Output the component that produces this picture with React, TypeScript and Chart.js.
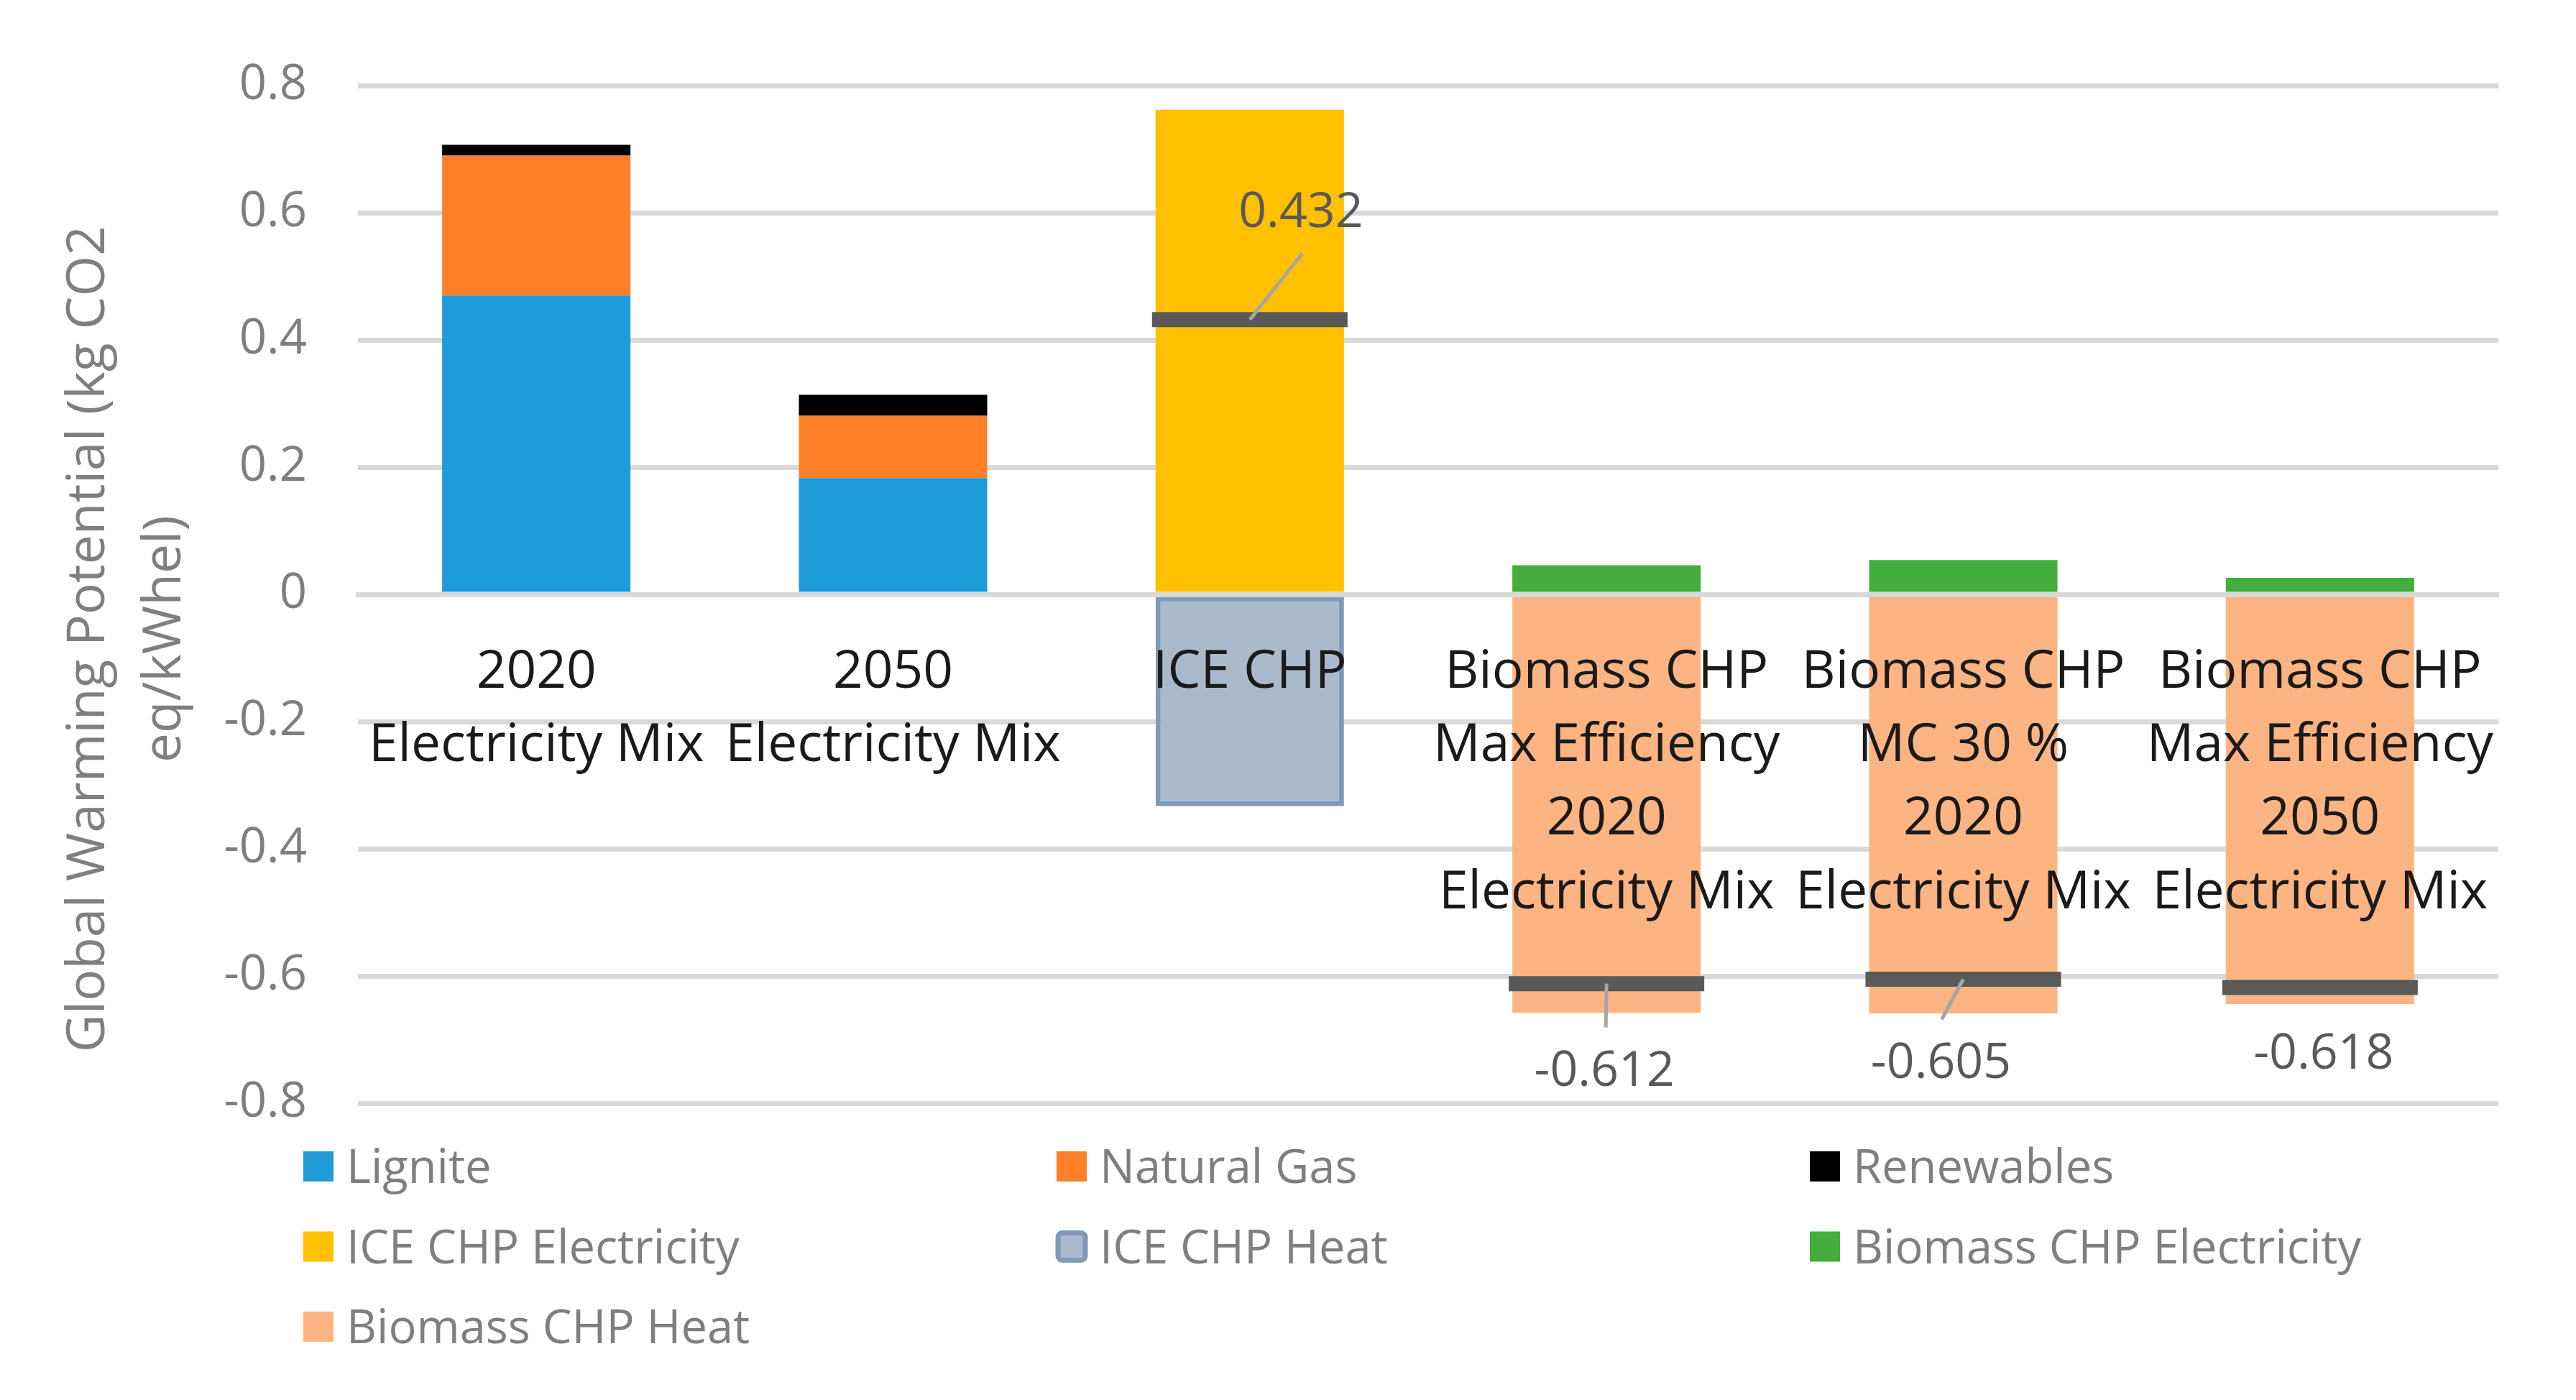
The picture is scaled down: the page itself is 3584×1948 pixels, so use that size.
import React, { useEffect, useRef } from 'react';
import { Chart, registerables } from 'chart.js';

Chart.register(...registerables);

// ---------------- data ----------------
const categories: string[][] = [
  ['2020', 'Electricity Mix'],
  ['2050', 'Electricity Mix'],
  ['ICE CHP'],
  ['Biomass CHP', 'Max Efficiency', '2020', 'Electricity Mix'],
  ['Biomass CHP', 'MC 30 %', '2020', 'Electricity Mix'],
  ['Biomass CHP', 'Max Efficiency', '2050', 'Electricity Mix'],
];

const lignite = [0.47, 0.183, null, null, null, null];
const naturalGas = [0.22, 0.098, null, null, null, null];
const renewables = [0.017, 0.033, null, null, null, null];
const iceChpElectricity = [null, null, 0.762, null, null, null];
const iceChpHeat = [null, null, -0.333, null, null, null];
const biomassChpElectricity = [null, null, null, 0.046, 0.054, 0.026];
const biomassChpHeat = [null, null, null, -0.658, -0.659, -0.644];
const netTotals = [null, null, 0.432, -0.612, -0.605, -0.618];

const yMin = -0.8;
const yMax = 0.8;
const yStep = 0.2;
const yTitleLines = ['Global Warming Potential (kg CO2', 'eq/kWhel)'];

// ---------------- styles ----------------
const FONT = '"Open Sans", "DejaVu Sans", sans-serif';
const GRID = '#d9d9d9';
const GREY_TEXT = '#7f7f7f';
const LABEL_TEXT = '#595959';

// data label placement (pixel offsets from the marker)
const labelPlacement: ({ dx: number; dy: number; lx?: number; ly?: number } | null)[] = [
  null,
  null,
  { dx: 71, dy: -148, lx: 73, ly: -92 },
  { dx: -3, dy: 123, lx: -1, ly: 61 },
  { dx: -31, dy: 118, lx: -30, ly: 56 },
  { dx: 5, dy: 94 },
];

const LEGEND = { offsetLeft: -76, offsetTop: 88, colGap: 1048, rowGap: 111.5, box: 42, textGap: 60, font: 65 };

const yTitlePlugin = {
  id: 'yTitle',
  afterDraw(chart: any) {
    const ctx = chart.ctx as CanvasRenderingContext2D;
    const area = chart.chartArea;
    const cy = (area.top + area.bottom) / 2 + 62;
    const baselines = [137, 243];
    ctx.save();
    ctx.fillStyle = GREY_TEXT;
    ctx.font = `73px ${FONT}`;
    ctx.textAlign = 'center';
    ctx.textBaseline = 'alphabetic';
    yTitleLines.forEach((t, i) => {
      ctx.save();
      ctx.translate(baselines[i], cy);
      ctx.rotate(-Math.PI / 2);
      ctx.fillText(t, 0, 0);
      ctx.restore();
    });
    ctx.restore();
  },
};

const dataLabelPlugin = {
  id: 'netLabels',
  afterDatasetsDraw(chart: any) {
    const ctx = chart.ctx as CanvasRenderingContext2D;
    const idx = chart.data.datasets.findIndex((d: any) => d.type === 'line');
    if (idx < 0) return;
    const meta = chart.getDatasetMeta(idx);
    const values = chart.data.datasets[idx].data as (number | null)[];
    ctx.save();
    meta.data.forEach((pt: any, i: number) => {
      const v = values[i];
      const p = labelPlacement[i];
      if (v === null || v === undefined || !p) return;
      if (p.lx !== undefined && p.ly !== undefined) {
        ctx.strokeStyle = '#a6a6a6';
        ctx.lineWidth = 5;
        ctx.lineCap = 'butt';
        ctx.beginPath();
        ctx.moveTo(pt.x, pt.y);
        ctx.lineTo(pt.x + p.lx, pt.y + p.ly);
        ctx.stroke();
      }
      ctx.fillStyle = LABEL_TEXT;
      ctx.font = `68px ${FONT}`;
      ctx.textAlign = 'center';
      ctx.textBaseline = 'middle';
      ctx.fillText(v.toFixed(3), pt.x + p.dx, pt.y + p.dy);
    });
    ctx.restore();
  },
};

const gridLegendPlugin = {
  id: 'gridLegend',
  afterDraw(chart: any) {
    const ctx = chart.ctx as CanvasRenderingContext2D;
    const area = chart.chartArea;
    const items = chart.data.datasets.filter((d: any) => d.type !== 'line');
    ctx.save();
    ctx.font = `${LEGEND.font}px ${FONT}`;
    ctx.textAlign = 'left';
    ctx.textBaseline = 'alphabetic';
    items.forEach((ds: any, i: number) => {
      const col = i % 3;
      const row = Math.floor(i / 3);
      const x = area.left + LEGEND.offsetLeft + col * LEGEND.colGap;
      const cy = area.bottom + LEGEND.offsetTop + row * LEGEND.rowGap;
      const s = LEGEND.box;
      ctx.fillStyle = ds.backgroundColor;
      if (ds.borderWidth && ds.borderWidth > 0) {
        ctx.beginPath();
        (ctx as any).roundRect(x + 2, cy - s / 2 + 2, s - 4, s - 4, 6);
        ctx.fill();
        ctx.strokeStyle = ds.borderColor;
        ctx.lineWidth = 7;
        ctx.stroke();
      } else {
        ctx.fillRect(x, cy - s / 2, s, s);
      }
      ctx.fillStyle = GREY_TEXT;
      ctx.fillText(ds.label, x + LEGEND.textGap, cy + 23);
    });
    ctx.restore();
  },
};

function barSet(label: string, data: (number | null)[], color: string, extra: any = {}) {
  return {
    type: 'bar' as const,
    label,
    data,
    backgroundColor: color,
    borderWidth: 0,
    stack: 'main',
    order: 1,
    categoryPercentage: 1,
    barPercentage: 0.528,
    ...extra,
  };
}

export default function App() {
  const canvasRef = useRef<HTMLCanvasElement | null>(null);

  useEffect(() => {
    if (!canvasRef.current) return;
    Chart.defaults.font.family = FONT;
    const chart = new Chart(canvasRef.current, {
      type: 'bar',
      data: {
        labels: categories,
        datasets: [
          {
            type: 'line',
            label: 'Net',
            data: netTotals,
            showLine: false,
            pointStyle: 'line',
            pointRadius: 136,
            pointHoverRadius: 136,
            pointBorderWidth: 21,
            pointHoverBorderWidth: 21,
            pointBorderColor: '#595959',
            pointBackgroundColor: '#595959',
            borderColor: '#595959',
            stack: 'net',
            order: 0,
            clip: false,
          } as any,
          barSet('Lignite', lignite, '#1e9cd7'),
          barSet('Natural Gas', naturalGas, '#fe7f27'),
          barSet('Renewables', renewables, '#000000'),
          barSet('ICE CHP Electricity', iceChpElectricity, '#ffc000'),
          barSet('ICE CHP Heat', iceChpHeat, '#a9bacd', {
            borderColor: '#7f9ab6',
            borderWidth: 7,
            borderSkipped: false,
          }),
          barSet('Biomass CHP Electricity', biomassChpElectricity, '#43ae3c'),
          barSet('Biomass CHP Heat', biomassChpHeat, '#fdb483'),
        ],
      },
      options: {
        animation: false,
        responsive: true,
        maintainAspectRatio: false,
        devicePixelRatio: 1,
        layout: { autoPadding: false, padding: { left: 0, top: 109, right: 100, bottom: 405 } },
        plugins: {
          legend: { display: false },
          tooltip: { enabled: false },
        },
        scales: {
          x: {
            stacked: true,
            position: { y: 0 } as any,
            offset: true,
            grid: { display: false, drawTicks: false },
            border: { display: true, color: GRID, width: 7, z: 1 },
            ticks: {
              z: 1,
              color: '#1a1a1a',
              font: { size: 73, family: FONT, lineHeight: 1.4 },
              padding: 58,
              autoSkip: false,
              maxRotation: 0,
              minRotation: 0,
            },
          },
          y: {
            stacked: true,
            min: yMin,
            max: yMax,
            grid: { color: GRID, lineWidth: 7, drawTicks: false },
            border: { display: false },
            ticks: {
              stepSize: yStep,
              color: GREY_TEXT,
              font: { size: 67, family: FONT },
              padding: 71,
              callback: (v: any) => {
                const r = Math.round(Number(v) * 10) / 10;
                return r === 0 ? '0' : r.toFixed(1);
              },
            },
            afterFit: (scale: any) => {
              scale.width = 490;
            },
          },
        },
      },
      plugins: [dataLabelPlugin, yTitlePlugin, gridLegendPlugin],
    });
    return () => chart.destroy();
  }, []);

  return (
    <div style={{ width: '3568px', height: '1932px', position: 'relative' }}>
      <canvas ref={canvasRef} />
    </div>
  );
}
